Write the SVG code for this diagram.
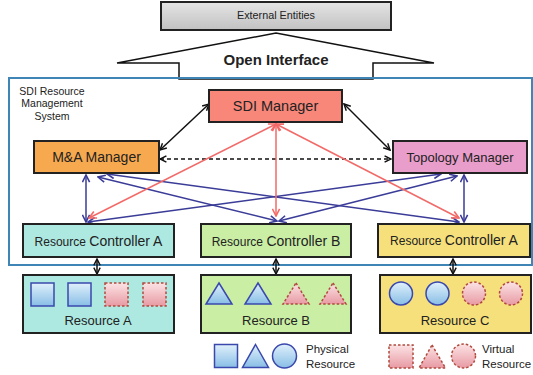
<svg xmlns="http://www.w3.org/2000/svg" width="533" height="375" viewBox="0 0 533 375">
<style>
text{font-family:"Liberation Sans",Arial,sans-serif;fill:#222}
.box{stroke:#222;stroke-width:2}
.blk{stroke:#111;stroke-width:1.5;fill:none;marker-start:url(#mk);marker-end:url(#mk)}
.blu{stroke:#3a3c98;stroke-width:1.5;fill:none;marker-start:url(#mb);marker-end:url(#mb)}
.red{stroke:#f26a68;stroke-width:1.5;fill:none;marker-start:url(#mr);marker-end:url(#mr)}
.phy{stroke:#3a48ad;stroke-width:1.5}
.vir{stroke:#b04a3e;stroke-width:1.5;stroke-dasharray:2.5,2}
</style>
<defs>
<marker id="mk" viewBox="0 0 10 10" refX="9" refY="5" markerWidth="8" markerHeight="8" markerUnits="userSpaceOnUse" orient="auto-start-reverse"><path d="M1,1 L9,5 L1,9" fill="none" stroke="#111" stroke-width="1.8"/></marker>
<marker id="mb" viewBox="0 0 10 10" refX="9" refY="5" markerWidth="9" markerHeight="9" markerUnits="userSpaceOnUse" orient="auto-start-reverse"><path d="M1,1 L9,5 L1,9" fill="none" stroke="#3a3c98" stroke-width="1.8"/></marker>
<marker id="mr" viewBox="0 0 10 10" refX="9" refY="5" markerWidth="9" markerHeight="9" markerUnits="userSpaceOnUse" orient="auto-start-reverse"><path d="M1,1 L9,5 L1,9" fill="none" stroke="#f26a68" stroke-width="1.8"/></marker>
<linearGradient id="gg" x1="0" y1="0" x2="0" y2="1"><stop offset="0" stop-color="#e4e4e4"/><stop offset="1" stop-color="#c2c2c2"/></linearGradient>
<linearGradient id="gp" x1="0" y1="0" x2="0" y2="1"><stop offset="0" stop-color="#e0f0fb"/><stop offset="1" stop-color="#88bee6"/></linearGradient>
<linearGradient id="gv" x1="0" y1="0" x2="0" y2="1"><stop offset="0" stop-color="#fbe3e5"/><stop offset="1" stop-color="#e89aa3"/></linearGradient>
<symbol id="psq" overflow="visible"><rect x="0" y="0" width="23" height="23" fill="url(#gp)" class="phy"/></symbol>
<symbol id="vsq" overflow="visible"><rect x="0" y="0" width="23" height="23" fill="url(#gv)" class="vir"/></symbol>
<symbol id="ptr" overflow="visible"><polygon points="13,0 26,21 0,21" fill="url(#gp)" class="phy"/></symbol>
<symbol id="vtr" overflow="visible"><polygon points="13,0 26,21 0,21" fill="url(#gv)" class="vir"/></symbol>
</defs>

<g id="external-entities">
<rect x="161" y="2" width="230" height="28" fill="url(#gg)" class="box"/>
<text x="276" y="19" font-size="10.8" text-anchor="middle" fill="#333">External Entities</text>
</g>

<g id="open-interface">
<polygon points="179,79 179,63 117,63 276,33 434,63 373,63 373,79" fill="#fff" stroke="#111" stroke-width="1.5"/>
<text x="276" y="64.5" font-size="15" font-weight="bold" text-anchor="middle" fill="#111">Open Interface</text>
</g>

<g id="sdi-resource-management-system">
<rect x="9" y="78" width="523" height="187" fill="none" stroke="#3f86b6" stroke-width="2"/>
<text font-size="10.5" text-anchor="middle" fill="#333"><tspan x="52" y="94.5">SDI Resource</tspan><tspan x="52" y="107">Management</tspan><tspan x="52" y="119.5">System</tspan></text>
</g>

<g id="connectors">
<line class="blk" x1="209" y1="104" x2="160" y2="150"/>
<line class="blk" x1="344" y1="104" x2="390" y2="150"/>
<line class="blk" x1="160" y1="159" x2="391" y2="159" stroke-dasharray="4,3"/>
<line class="blu" x1="86" y1="175" x2="86" y2="222"/>
<line class="blu" x1="98" y1="177" x2="277" y2="221"/>
<line class="blu" x1="107" y1="174" x2="459" y2="222"/>
<line class="blu" x1="464" y1="175" x2="464" y2="222"/>
<line class="blu" x1="441" y1="174" x2="88" y2="222"/>
<line class="blu" x1="457" y1="176" x2="279" y2="221"/>
<line class="red" x1="276" y1="124" x2="89" y2="218"/>
<line class="red" x1="276" y1="124" x2="276" y2="216"/>
<line class="red" x1="276" y1="124" x2="459" y2="218"/>
<line class="blk" x1="97" y1="259" x2="97" y2="274"/>
<line class="blk" x1="276" y1="259" x2="276" y2="274"/>
<line class="blk" x1="453" y1="259" x2="453" y2="274"/>
</g>

<g id="sdi-manager">
<rect x="209" y="90" width="133" height="32" fill="#f8877a" class="box"/>
<text x="275.5" y="111" font-size="14.5" text-anchor="middle">SDI Manager</text>
</g>

<g id="ma-manager">
<rect x="34" y="141" width="125" height="32" fill="#f7a94f" class="box"/>
<text x="96.5" y="162" font-size="14" text-anchor="middle">M&amp;A Manager</text>
</g>

<g id="topology-manager">
<rect x="393" y="141" width="134" height="32" fill="#e99dca" class="box"/>
<text x="460" y="162" font-size="13" text-anchor="middle">Topology Manager</text>
</g>

<g id="resource-controller-a-left">
<rect x="23" y="224" width="151" height="33" fill="#ade9e1" class="box"/>
<text x="98.5" y="246" text-anchor="middle"><tspan font-size="12">Resource </tspan><tspan font-size="14">Controller A</tspan></text>
</g>

<g id="resource-controller-b">
<rect x="201" y="224" width="150" height="33" fill="#c9eea4" class="box"/>
<text x="276" y="246" text-anchor="middle"><tspan font-size="12">Resource </tspan><tspan font-size="14">Controller B</tspan></text>
</g>

<g id="resource-controller-a-right">
<rect x="378" y="224" width="152" height="33" fill="#f6e07c" class="box"/>
<text x="454" y="245" text-anchor="middle"><tspan font-size="12">Resource </tspan><tspan font-size="14">Controller A</tspan></text>
</g>

<g id="resource-a">
<rect x="23" y="275" width="151" height="58" fill="#ade9e1" class="box"/>
<use href="#psq" x="31" y="283"/>
<use href="#psq" x="68" y="283"/>
<use href="#vsq" x="105" y="283"/>
<use href="#vsq" x="143" y="283"/>
<text x="98" y="325" font-size="13" text-anchor="middle">Resource A</text>
</g>

<g id="resource-b">
<rect x="201" y="275" width="150" height="58" fill="#c9eea4" class="box"/>
<use href="#ptr" x="206" y="283"/>
<use href="#ptr" x="245" y="283"/>
<use href="#vtr" x="283" y="283"/>
<use href="#vtr" x="320" y="283"/>
<text x="276" y="325" font-size="13" text-anchor="middle">Resource B</text>
</g>

<g id="resource-c">
<rect x="380" y="275" width="151" height="58" fill="#f6e07c" class="box"/>
<circle cx="401" cy="293.5" r="11.5" fill="url(#gp)" class="phy"/>
<circle cx="437.5" cy="293.5" r="11.5" fill="url(#gp)" class="phy"/>
<circle cx="474" cy="293.5" r="11.5" fill="url(#gv)" class="vir"/>
<circle cx="511" cy="293.5" r="11.5" fill="url(#gv)" class="vir"/>
<text x="455" y="325" font-size="13" text-anchor="middle">Resource C</text>
</g>

<g id="legend-physical">
<rect x="214.5" y="344.5" width="23" height="23" fill="url(#gp)" class="phy"/>
<polygon points="255.5,344.5 268.5,367.5 242.5,367.5" fill="url(#gp)" class="phy"/>
<circle cx="284.5" cy="356" r="12" fill="url(#gp)" class="phy"/>
<text font-size="11.5" fill="#333"><tspan x="306" y="353">Physical</tspan><tspan x="306" y="368">Resource</tspan></text>
</g>

<g id="legend-virtual">
<rect x="389" y="345" width="24" height="23" fill="url(#gv)" class="vir"/>
<polygon points="432,345 445.5,368 419,368" fill="url(#gv)" class="vir"/>
<circle cx="463.5" cy="356" r="12" fill="url(#gv)" class="vir"/>
<text font-size="11.5" fill="#333"><tspan x="482" y="353">Virtual</tspan><tspan x="482" y="368">Resource</tspan></text>
</g>
</svg>
